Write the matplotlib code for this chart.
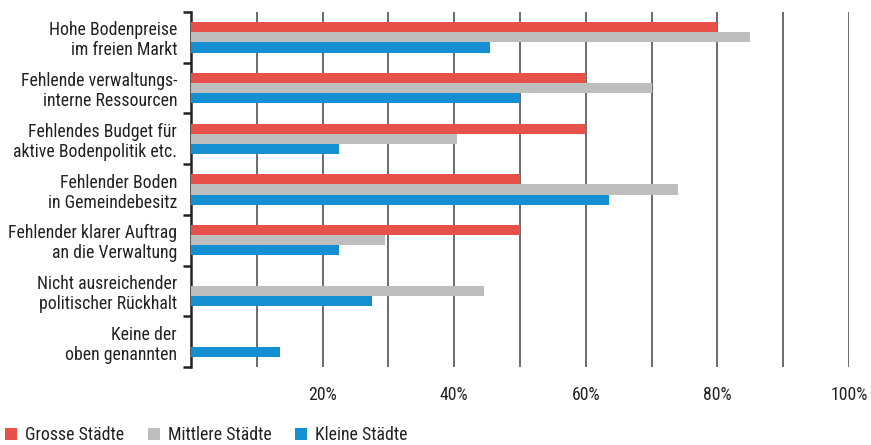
import matplotlib
matplotlib.use("Agg")
import matplotlib.pyplot as plt
from matplotlib.patches import Patch
import numpy as np

plt.rcParams['font.family'] = ['Roboto Condensed', 'DejaVu Sans']

categories = [
    "Hohe Bodenpreise\nim freien Markt",
    "Fehlende verwaltungs-\ninterne Ressourcen",
    "Fehlendes Budget für\naktive Bodenpolitik etc.",
    "Fehlender Boden\nin Gemeindebesitz",
    "Fehlender klarer Auftrag\nan die Verwaltung",
    "Nicht ausreichender\npolitischer Rückhalt",
    "Keine der\noben genannten",
]
series_names = ["Grosse Städte", "Mittlere Städte", "Kleine Städte"]
grosse = [80, 60, 60, 50, 50, 0, 0]
mittlere = [85, 70, 40.5, 74, 29.5, 44.5, 0]
kleine = [45.5, 50, 22.5, 63.5, 22.5, 27.5, 13.5]
xticks = [20, 40, 60, 80, 100]
xticklabels = ["20%", "40%", "60%", "80%", "100%"]
gridvals = [10, 20, 30, 40, 50, 60, 70, 80, 90, 100]

colors = ["#E8504A", "#BEBEBE", "#1490D2"]
FS = 12.8

fig = plt.figure(figsize=(8.71, 4.45), dpi=100)
ax = fig.add_axes([191/871, 1-367/445, (849-191)/871, (367-12)/445])

y = np.arange(len(categories))
h = 0.2
for i, (vals, c, name) in enumerate(zip([grosse, mittlere, kleine], colors, series_names)):
    ax.barh(y + (i-1)*h, vals, height=h, color=c, edgecolor="none", linewidth=0, zorder=3, label=name)

for g in gridvals:
    ax.axvline(g, color="#444444", linewidth=1.1, zorder=1)

ax.set_xlim(0, 100)
ax.set_ylim(len(categories)-0.5, -0.5)

ax.set_yticks(y)
ax.set_yticklabels(categories, fontsize=FS, color="#222222", ha="right", multialignment="right",
                   linespacing=1.15)
ax.tick_params(axis="y", which="major", length=0, pad=10)
ax.set_yticks(np.arange(-0.5, len(categories)), minor=True)
ax.tick_params(axis="y", which="minor", length=6, width=1.8, color="#222222", direction="out")

ax.set_xticks(xticks)
ax.set_xticklabels(xticklabels, fontsize=FS, color="#222222")
ax.tick_params(axis="x", length=0, pad=14)

for s in ["top", "right", "bottom"]:
    ax.spines[s].set_visible(False)
ax.spines["left"].set_linewidth(1.8)
ax.spines["left"].set_color("#222222")

handles = [Patch(facecolor=c, edgecolor="none") for c in colors]
fig.legend(handles, series_names, loc="lower left", bbox_to_anchor=(0.002, -0.006),
           ncol=3, frameon=False, fontsize=FS, handlelength=0.68, handleheight=0.68,
           handletextpad=0.45, columnspacing=1.3, borderaxespad=0.0, borderpad=0.2,
           labelcolor="#222222")

fig.savefig("out.png", dpi=100)
